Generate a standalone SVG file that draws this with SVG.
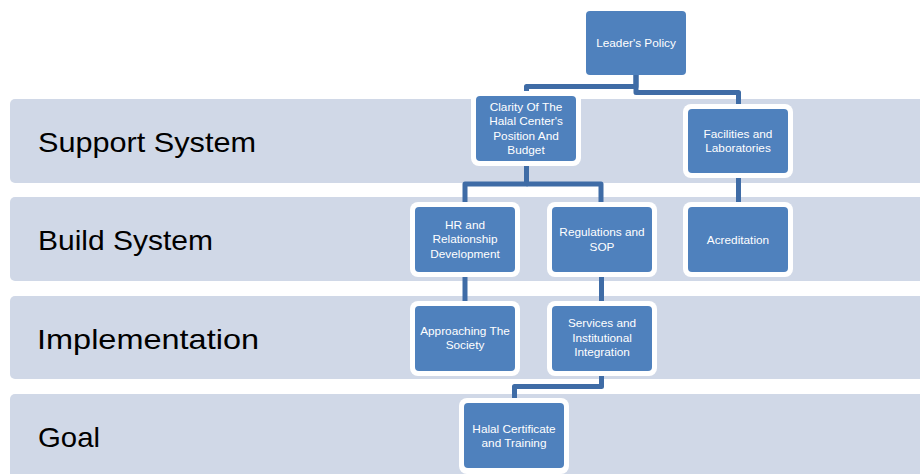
<svg xmlns="http://www.w3.org/2000/svg" width="920" height="474" viewBox="0 0 920 474">
  <style>
    .band { fill: #D0D8E7; }
    .band-label { font-family: "Liberation Sans", Arial, sans-serif; font-size: 28px; fill: #000000; }
    .halo { fill: #FFFFFF; }
    .box { fill: #4F81BD; }
    .label { font-family: "Liberation Sans", Arial, sans-serif; font-size: 11.8px; fill: #FFFFFF; text-anchor: middle; }
    .link { fill: none; stroke: #3F6CA6; stroke-width: 5; stroke-linejoin: round; stroke-linecap: butt; }
  </style>

  <rect width="920" height="474" fill="#FFFFFF"/>

  <!-- horizontal level bands -->
  <g id="bands">
    <rect class="band" x="10" y="99" width="920" height="84" rx="5"/>
    <rect class="band" x="10" y="197" width="920" height="84" rx="5"/>
    <rect class="band" x="10" y="296" width="920" height="83" rx="5"/>
    <rect class="band" x="10" y="394" width="920" height="90" rx="5"/>
    <text class="band-label" x="38" y="152" textLength="218" lengthAdjust="spacingAndGlyphs">Support System</text>
    <text class="band-label" x="38" y="250" textLength="175" lengthAdjust="spacingAndGlyphs">Build System</text>
    <text class="band-label" x="37" y="349" textLength="222" lengthAdjust="spacingAndGlyphs">Implementation</text>
    <text class="band-label" x="38" y="447" textLength="62" lengthAdjust="spacingAndGlyphs">Goal</text>
  </g>

  <!-- elbow connectors -->
  <g id="connectors">
    <path class="link" d="M636 75 V92.5 H738.5 V104"/>
    <path class="link" d="M636 75 V86.5 H526.5 V96"/>
    <path class="link" d="M526.5 161 V184 H465 V202"/>
    <path class="link" d="M526.5 184 H601 V202"/>
    <path class="link" d="M738.5 173 V202"/>
    <path class="link" d="M465 272 V301"/>
    <path class="link" d="M601.5 272 V301"/>
    <path class="link" d="M601.5 371 V386.5 H514.5 V399"/>
  </g>

  <g id="leaders-policy">
    <rect class="box" x="586" y="11" width="100" height="64" rx="4"/>
    <text class="label" x="636" y="47">Leader's Policy</text>
  </g>

  <g id="clarity">
    <rect class="halo" x="471" y="91" width="110" height="75" rx="8"/>
    <rect class="box" x="476" y="96" width="100" height="65" rx="4"/>
    <text class="label" x="526" y="110.6">Clarity Of The</text>
    <text class="label" x="526" y="125.2">Halal Center's</text>
    <text class="label" x="526" y="139.8">Position And</text>
    <text class="label" x="526" y="154.4">Budget</text>
  </g>

  <g id="facilities">
    <rect class="halo" x="683" y="104" width="110" height="74" rx="8"/>
    <rect class="box" x="688" y="109" width="100" height="64" rx="4"/>
    <text class="label" x="738" y="137.7">Facilities and</text>
    <text class="label" x="738" y="152.3">Laboratories</text>
  </g>

  <g id="hr">
    <rect class="halo" x="410" y="202" width="110" height="75" rx="8"/>
    <rect class="box" x="415" y="207" width="100" height="65" rx="4"/>
    <text class="label" x="465" y="228.5">HR and</text>
    <text class="label" x="465" y="243.1">Relationship</text>
    <text class="label" x="465" y="257.7">Development</text>
  </g>

  <g id="regulations">
    <rect class="halo" x="547" y="202" width="110" height="75" rx="8"/>
    <rect class="box" x="552" y="207" width="100" height="65" rx="4"/>
    <text class="label" x="602" y="236.2">Regulations and</text>
    <text class="label" x="602" y="250.8">SOP</text>
  </g>

  <g id="acreditation">
    <rect class="halo" x="683" y="202" width="110" height="75" rx="8"/>
    <rect class="box" x="688" y="207" width="100" height="65" rx="4"/>
    <text class="label" x="738" y="244">Acreditation</text>
  </g>

  <g id="approaching">
    <rect class="halo" x="410" y="301" width="110" height="75" rx="8"/>
    <rect class="box" x="415" y="306" width="100" height="65" rx="4"/>
    <text class="label" x="465" y="334.7">Approaching The</text>
    <text class="label" x="465" y="349.3">Society</text>
  </g>

  <g id="services">
    <rect class="halo" x="547" y="301" width="110" height="75" rx="8"/>
    <rect class="box" x="552" y="306" width="100" height="65" rx="4"/>
    <text class="label" x="602" y="326.9">Services and</text>
    <text class="label" x="602" y="341.5">Institutional</text>
    <text class="label" x="602" y="356.1">Integration</text>
  </g>

  <g id="halal-certificate">
    <rect class="halo" x="459" y="398" width="110" height="76" rx="8"/>
    <rect class="box" x="464" y="403" width="100" height="65" rx="4"/>
    <text class="label" x="514" y="433">Halal Certificate</text>
    <text class="label" x="514" y="446.6">and Training</text>
  </g>
</svg>
